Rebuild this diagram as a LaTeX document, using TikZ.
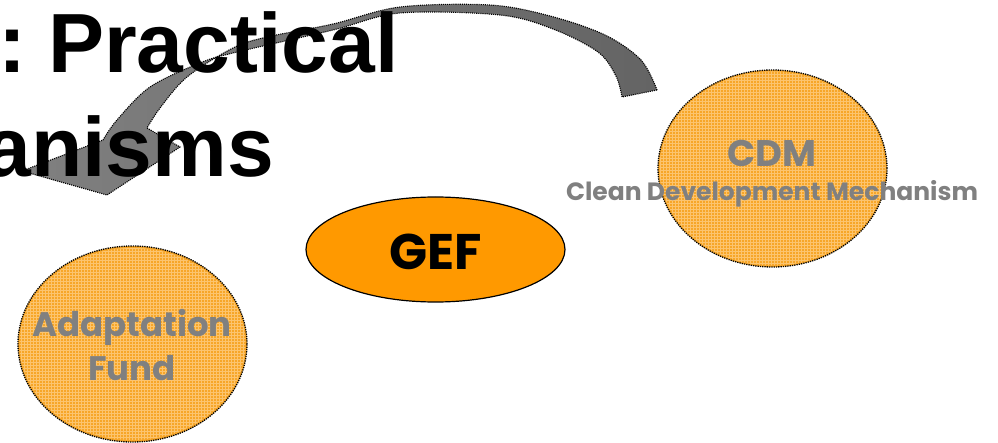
\documentclass[tikz,border=0pt]{standalone}
\usepackage{fontspec}
\setmainfont{Liberation Sans}
\newfontfamily\gothic{Poppins}
\usetikzlibrary{patterns,shapes.geometric}
\definecolor{gefor}{RGB}{255,153,0}
\definecolor{patfill}{RGB}{247,166,40}
\definecolor{patline}{RGB}{252,196,110}
\definecolor{txtgray}{RGB}{128,128,128}
\definecolor{arrowA}{RGB}{128,128,128}
\definecolor{arrowB}{RGB}{100,100,100}
\tikzset{
  patcircle/.style={ellipse, draw=black, densely dotted, line width=1.3pt, fill=patfill, inner sep=0pt},
  gtext/.style={font=\gothic\bfseries, text=txtgray, inner sep=0pt},
  titletext/.style={font=\bfseries\fontsize{84}{84}\selectfont, inner sep=0pt},
}
\begin{document}
\begin{tikzpicture}[x=1pt,y=-1pt]
\useasboundingbox (0,0) rectangle (998,443);
% curved block arrow
\shade[left color=arrowA, right color=arrowB, draw=black, densely dotted, line width=1.1pt]
  plot[smooth, tension=0.55] coordinates {(657,90) (641,60) (605,35) (550,16) (490,5) (400,7) (333,24) (267,37) (233,48) (187,77) (160,108) (147,128)}
  -- (180,147) -- (107,195) -- (22,171) -- (103,140)
  -- plot[smooth, tension=0.55] coordinates {(103,140) (117,120) (150,87) (200,63) (233,53) (333,30) (400,13) (500,15) (553,29) (598,52) (616,76) (622,97)}
  -- cycle;
% title
\node[titletext, anchor=base west] (t1) at (-2,73) {:\kern-9pt{} Practical};
\node[titletext, anchor=base east] (t2) at (274,177) {anisms};
% GEF
\node[ellipse, draw=black, line width=1.2pt, fill=gefor, minimum width=259pt, minimum height=105pt] (gef) at (435.5,249.5) {};
\node[font=\gothic\bfseries\fontsize{50}{50}\selectfont, inner sep=0pt, anchor=base] (geft) at (435.5,270) {GEF};
% CDM
\node[patcircle, minimum width=229pt, minimum height=197pt] (cdm) at (772.5,168.5) {};
\fill[pattern=grid, pattern color=patline] (cdm.center) ellipse [x radius=113pt, y radius=97pt];
\node[gtext, font=\gothic\bfseries\fontsize{37}{37}\selectfont, anchor=base] (cdmt) at (772,167) {CDM};
\node[gtext, font=\gothic\bfseries\fontsize{25}{25}\selectfont, anchor=base] (cdml) at (772,201) {Clean Development Mechanism};
% Adaptation Fund
\node[patcircle, minimum width=229pt, minimum height=196pt] (af) at (132.5,344) {};
\fill[pattern=grid, pattern color=patline] (af.center) ellipse [x radius=113pt, y radius=96pt];
\node[gtext, font=\gothic\bfseries\fontsize{34}{34}\selectfont, anchor=base] (aft1) at (132,337) {Adaptation};
\node[gtext, font=\gothic\bfseries\fontsize{34}{34}\selectfont, anchor=base] (aft2) at (132,380) {Fund};
\end{tikzpicture}
\end{document}
